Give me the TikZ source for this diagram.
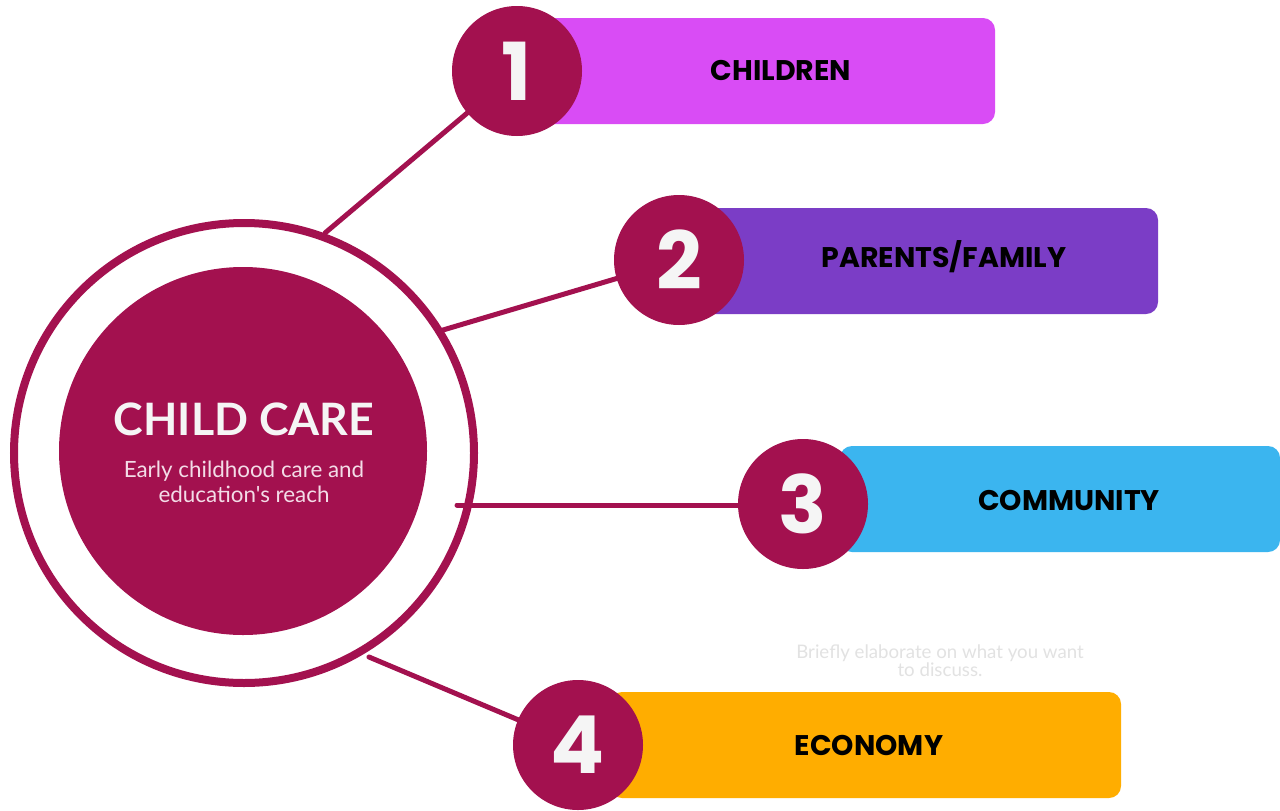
\documentclass[tikz,border=0pt]{standalone}
\usepackage{fontspec}
\setmainfont{Lato}[Ligatures=TeXOff]
\newfontfamily\popfont{Poppins}
\usetikzlibrary{calc}
\definecolor{crim}{HTML}{A3114F}
\definecolor{barA}{HTML}{D94CF5}
\definecolor{barB}{HTML}{7B3DC6}
\definecolor{barC}{HTML}{3BB5EF}
\definecolor{barD}{HTML}{FFAD00}
\definecolor{offwhite}{HTML}{F5F5F5}
\definecolor{pinkish}{HTML}{F3DCE7}
\definecolor{faint}{HTML}{E2E2E2}
\begin{document}
\begin{tikzpicture}[x=0.75pt,y=-0.75pt,
  ring/.style={circle,draw=crim,line width=6pt,minimum size=345pt,inner sep=0pt},
  core/.style={circle,fill=crim,minimum size=276pt,inner sep=0pt},
  numdot/.style={circle,fill=crim,minimum size=97.5pt,inner sep=0pt,text=offwhite,
    font=\popfont\bfseries\fontsize{60}{60}\selectfont},
  bar/.style={rounded corners=9pt,minimum height=79.5pt,inner sep=0pt},
  barlabel/.style={font=\popfont\bfseries\fontsize{21.3}{24}\selectfont,text=black,inner sep=0pt},
  link/.style={draw=crim,line width=3.75pt,line cap=round}]
\useasboundingbox[fill=white] (0,0) rectangle (1280,810);

% central hub
\node[ring] (ring) at (244,453) {};
\node[core] (core) at (243,451) {};
\node[font=\bfseries\fontsize{33.5}{40}\selectfont,text=offwhite,inner sep=0pt] (title) at (244,419) {CHILD CARE};
\node[font=\fontsize{16.8}{18.75}\selectfont,text=pinkish,align=center,inner sep=0pt] (sub) at (244,482)
  {Early childhood care and\\education's reach};

% bars
\node[bar,fill=barA,minimum width=341.25pt] (b1) at (767.5,71) {};
\node[bar,fill=barB,minimum width=343.5pt] (b2) at (929,261) {};
\node[bar,fill=barC,minimum width=330pt] (b3) at (1060,499) {};
\node[bar,fill=barD,minimum width=383.25pt] (b4) at (865.5,745) {};

% link start points on the ring
\coordinate (s1) at (325,233);
\coordinate (s2) at (443,330);
\coordinate (s3) at (457,505);
\coordinate (s4) at (369,657);

% number circles positions
\coordinate (p1) at (517,71);
\coordinate (p2) at (679,260);
\coordinate (p3) at (803,504);
\coordinate (p4) at (578,745);

\draw[link] (s1) -- (p1);
\draw[link] (s2) -- (p2);
\draw[link] (s3) -- (s3 -| p3);
\draw[link] (s4) -- (p4);

\node[numdot] (c1) at (p1) {1};
\node[numdot] (c2) at (p2) {2};
\node[numdot] (c3) at (p3) {3};
\node[numdot] (c4) at (p4) {4};

\node[barlabel] (l1) at (781,70) {CHILDREN};
\node[barlabel] (l2) at (944,257) {PARENTS/FAMILY};
\node[barlabel] (l3) at (1069,500) {COMMUNITY};
\node[barlabel] (l4) at (869,745) {ECONOMY};

\node[font=\fontsize{14}{13.5}\selectfont,text=faint,align=center,inner sep=0pt] (hint) at (940,661)
  {Briefly elaborate on what you want\\to discuss.};
\end{tikzpicture}
\end{document}
